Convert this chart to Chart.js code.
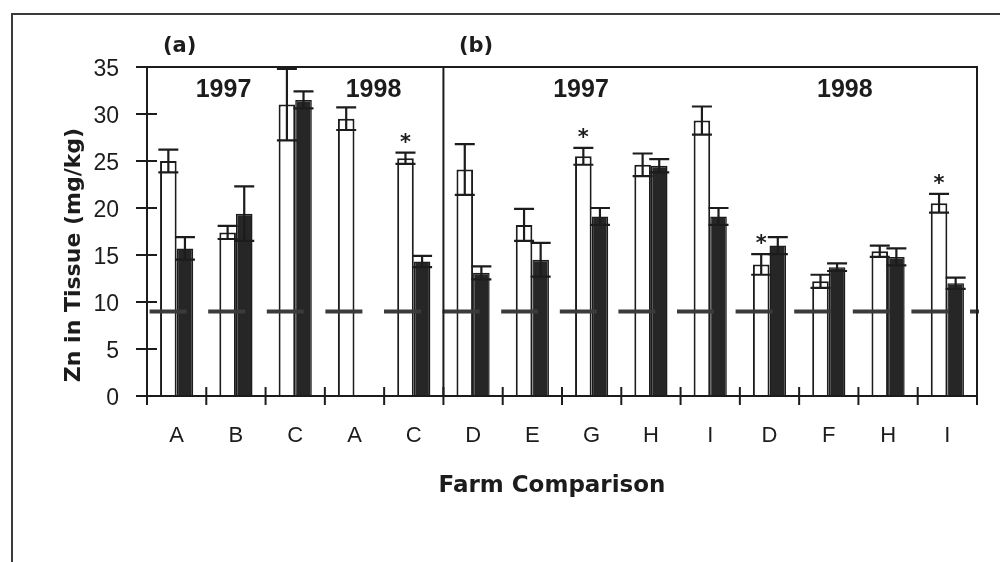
<!DOCTYPE html>
<html><head><meta charset="utf-8">
<script src="https://cdn.jsdelivr.net/npm/chart.js@4.4.0/dist/chart.umd.min.js"></script>
<style>
html,body{margin:0;padding:0;background:#fff;}
#wrap{position:relative;width:1000px;height:562px;overflow:hidden;}
canvas{position:absolute;left:0;top:0;}
</style></head><body>
<div id="wrap"><canvas id="c" width="1000" height="562"></canvas></div>
<script>
// ---- data ----
const farms = ['A','B','C','A','C','D','E','G','H','I','D','F','H','I'];
const openBars   = [25.0, 17.4, 31.0, 29.5, 25.3, 24.1, 18.2, 25.5, 24.6, 29.3, 14.0, 12.2, 15.4, 20.5];
const openErr    = [1.2, 0.7, 3.8, 1.2, 0.6, 2.7, 1.7, 0.9, 1.2, 1.5, 1.1, 0.7, 0.6, 1.0];
const solidBars  = [15.7, 19.4, 31.5, null, 14.3, 13.1, 14.5, 19.1, 24.5, 19.1, 16.0, 13.7, 14.8, 12.0];
const solidErr   = [1.2, 2.9, 0.9, null, 0.6, 0.7, 1.8, 0.9, 0.7, 0.9, 0.9, 0.4, 0.9, 0.6];
const significant = [false,false,false,false,true,false,false,true,false,false,true,false,false,true];
const threshold = 9;
const yTicks = [0,5,10,15,20,25,30,35];
const panelLabels = ['(a)','(b)'];
const yearLabels = ['1997','1998','1997','1998'];
const xTitle = 'Farm Comparison';
const yTitle = 'Zn in Tissue (mg/kg)';

const INK = '#1c1c1c';

const decor = {
  id:'decor',
  afterDatasetsDraw(chart){
    const ctx = chart.ctx;
    const xs = chart.scales.x, ys = chart.scales.y;
    const a = chart.chartArea;
    ctx.save();
    // dashed threshold line (drawn over the bars)
    const yT = ys.getPixelForValue(threshold);
    ctx.save();
    ctx.beginPath(); ctx.rect(a.left, a.top, a.right - a.left + 2, a.bottom - a.top); ctx.clip();
    ctx.strokeStyle = '#3b3b3b'; ctx.lineWidth = 4;
    ctx.setLineDash([37, 21.6]); ctx.lineDashOffset = 56;
    ctx.beginPath(); ctx.moveTo(a.left, yT); ctx.lineTo(a.right + 2, yT); ctx.stroke();
    ctx.restore();
    // error bars
    const drawErr = (dsIndex, vals, errs) => {
      const meta = chart.getDatasetMeta(dsIndex);
      vals.forEach((v,i)=>{
        if (v==null || errs[i]==null) return;
        const el = meta.data[i];
        const x = el.x;
        const yHi = ys.getPixelForValue(v+errs[i]);
        const yLo = ys.getPixelForValue(v-errs[i]);
        ctx.strokeStyle = INK; ctx.lineWidth = 2.2;
        ctx.beginPath();
        ctx.moveTo(x, yLo); ctx.lineTo(x, yHi);
        ctx.moveTo(x-10, yHi); ctx.lineTo(x+10, yHi);
        ctx.moveTo(x-10, yLo); ctx.lineTo(x+10, yLo);
        ctx.stroke();
      });
    };
    drawErr(0, openBars, openErr);
    drawErr(1, solidBars, solidErr);
    // asterisks
    ctx.fillStyle = INK;
    ctx.font = 'bold 21px "DejaVu Sans"';
    ctx.textAlign = 'center'; ctx.textBaseline = 'alphabetic';
    const m0 = chart.getDatasetMeta(0);
    significant.forEach((s,i)=>{
      if(!s) return;
      const top = ys.getPixelForValue(openBars[i]+openErr[i]);
      ctx.fillText('*', m0.data[i].x, top - 4);
    });
    // plot frame
    ctx.strokeStyle = INK; ctx.lineWidth = 2;
    ctx.beginPath();
    ctx.moveTo(a.left, a.bottom); ctx.lineTo(a.left, a.top); ctx.lineTo(a.right, a.top); ctx.lineTo(a.right, a.bottom);
    ctx.moveTo(a.left-10, a.bottom); ctx.lineTo(a.right, a.bottom);
    const sep = (xs.getPixelForValue(4)+xs.getPixelForValue(5))/2;
    ctx.moveTo(sep, a.top); ctx.lineTo(sep, a.bottom);
    ctx.stroke();
    // y tick marks (crossing)
    ctx.beginPath();
    yTicks.forEach(v=>{ const y = ys.getPixelForValue(v); ctx.moveTo(a.left-11,y); ctx.lineTo(a.left+10,y); });
    // x tick marks at category boundaries (crossing)
    for(let i=0;i<=farms.length;i++){
      const x = i===0 ? a.left : (i===farms.length ? a.right : (xs.getPixelForValue(i-1)+xs.getPixelForValue(i))/2);
      ctx.moveTo(x, a.bottom-9); ctx.lineTo(x, a.bottom+9);
    }
    ctx.stroke();
    // panel and year labels
    ctx.fillStyle = INK;
    ctx.textBaseline = 'middle'; ctx.textAlign = 'center';
    ctx.font = 'bold 21px "DejaVu Sans"';
    ctx.fillText(panelLabels[0], xs.getPixelForValue(0)+3, 47);
    ctx.fillText(panelLabels[1], xs.getPixelForValue(5)+3, 47);
    ctx.font = 'bold 25px "Liberation Sans"';
    const ypos = 90;
    ctx.fillText(yearLabels[0], xs.getPixelForValue(0.79), ypos);
    ctx.fillText(yearLabels[1], xs.getPixelForValue(3.32), ypos);
    ctx.fillText(yearLabels[2], xs.getPixelForValue(6.82), ypos);
    ctx.fillText(yearLabels[3], xs.getPixelForValue(11.27), ypos);
    // axis titles
    ctx.font = 'bold 23px "DejaVu Sans"';
    ctx.fillText(xTitle, 552, 486);
    ctx.save();
    ctx.translate(74, 255);
    ctx.rotate(-Math.PI/2);
    ctx.font = 'bold 22px "DejaVu Sans"';
    ctx.fillText(yTitle, 0, 0);
    ctx.restore();
    // outer frame
    ctx.strokeStyle = '#3a3a3a'; ctx.lineWidth = 2;
    ctx.beginPath();
    ctx.moveTo(12, 562); ctx.lineTo(12, 14); ctx.lineTo(1000, 14);
    ctx.stroke();
    ctx.restore();
  }
};

new Chart(document.getElementById('c').getContext('2d'), {
  type:'bar',
  data:{
    labels: farms,
    datasets:[
      {label:'open', data: openBars, backgroundColor:'#ffffff', borderColor:INK, borderWidth:2,
       categoryPercentage:0.56, barPercentage:1.0},
      {label:'solid', data: solidBars, backgroundColor:'#262626', borderColor:INK, borderWidth:1.5,
       categoryPercentage:0.56, barPercentage:1.0}
    ]
  },
  options:{
    responsive:false, animation:false, devicePixelRatio:1,
    layout:{padding:{left:0, top:67, right:23, bottom:0}},
    plugins:{legend:{display:false}, tooltip:{enabled:false}},
    scales:{
      x:{type:'category', offset:true,
         grid:{display:false, drawTicks:false}, border:{display:false},
         ticks:{autoSkip:false, maxRotation:0, padding:27, color:INK, font:{family:'Liberation Sans', size:22}},
         afterFit(s){ s.height = 166; }},
      y:{min:0, max:35,
         afterBuildTicks(s){ s.ticks = yTicks.map(v=>({value:v})); },
         grid:{display:false, drawTicks:false}, border:{display:false},
         ticks:{padding:28, labelOffset:3, color:INK, font:{family:'Liberation Sans', size:23}},
         afterFit(s){ s.width = 147; }}
    }
  },
  plugins:[decor]
});
</script>
</body></html>
